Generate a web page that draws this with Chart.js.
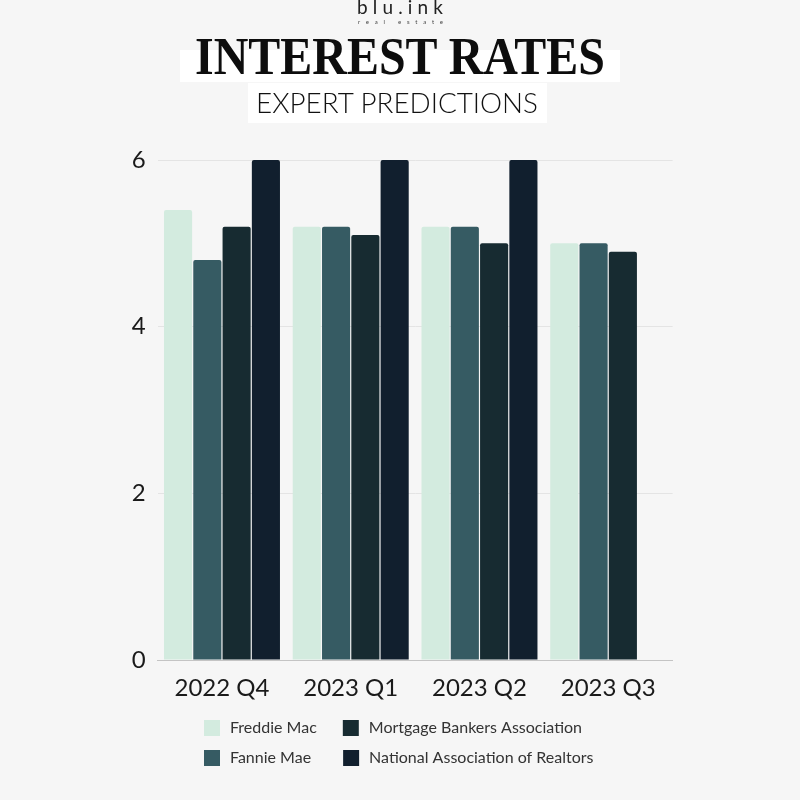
<!DOCTYPE html>
<html><head><meta charset="utf-8">
<script src="https://cdn.jsdelivr.net/npm/chart.js@4.4.0/dist/chart.umd.min.js"></script>
<style>
html,body{margin:0;padding:0;background:#f6f6f6;}
#wrap{position:relative;width:800px;height:800px;overflow:hidden;background:#f6f6f6;}
#c{position:absolute;left:0;top:0;}
.t{position:absolute;white-space:nowrap;transform-origin:0 0;line-height:1;color:#111;}
.box{position:absolute;background:#ffffff;}
</style></head><body>
<div id="wrap">
<canvas id="c" width="800" height="800"></canvas>
<div class="box" style="left:180px;top:50px;width:440px;height:32px"></div>
<div class="box" style="left:248px;top:83px;width:299px;height:40px"></div>
<div class="t" id="brand" style="font-family:Lato;font-weight:400;font-size:19px;left:357px;top:-3px;color:#222">blu.ink</div>
<div class="t" id="sub" style="font-family:Lato;font-weight:400;font-size:6px;left:358px;top:19px;color:#444">real estate</div>
<div class="t" id="title" style="font-family:'Liberation Serif';font-weight:700;font-size:52px;left:195px;top:31px;color:#0d0d0d">INTEREST RATES</div>
<div class="t" id="subtitle" style="font-family:Lato;font-weight:300;font-size:27px;left:256px;top:89.4px;color:#111">EXPERT PREDICTIONS</div>
</div>
<script>
// ---- data ----
const categories = ['2022 Q4', '2023 Q1', '2023 Q2', '2023 Q3'];
const seriesNames = ['Freddie Mac', 'Fannie Mae', 'Mortgage Bankers Association', 'National Association of Realtors'];
const freddieMac = [5.4, 5.2, 5.2, 5.0];
const fannieMae = [4.8, 5.2, 5.2, 5.0];
const mortgageBankers = [5.2, 5.1, 5.0, 4.9];
const realtors = [6, 6, 6, null];
const yTickValues = [0, 2, 4, 6];

const colors = ['#d3ebdf', '#365b63', '#172b31', '#111f2e'];

// ---- header text fitting ----
function scaleTo(id, w) {
  const el = document.getElementById(id);
  const nat = el.getBoundingClientRect().width;
  el.style.transform = 'scaleX(' + (w / nat) + ')';
}
function spaceTo(id, w) {
  const el = document.getElementById(id);
  const n = el.textContent.length;
  const nat = el.getBoundingClientRect().width;
  el.style.letterSpacing = ((w - nat) / (n - 1)) + 'px';
}
scaleTo('title', 410);
scaleTo('subtitle', 282);
spaceTo('brand', 86);
spaceTo('sub', 85);

// ---- legend wrapping helper ----
const LEGEND_LEFT = 190, LEGEND_W = 440;
const legendWrap = {
  id: 'legendWrap',
  beforeLayout(chart) {
    const lg = chart.legend;
    if (lg && !lg._patched) {
      const fit = lg.fit.bind(lg);
      lg.fit = function () {
        const mw = this.maxWidth;
        this.maxWidth = LEGEND_W;
        fit();
        this.maxWidth = mw;
      };
      lg._patched = true;
    }
  },
  afterLayout(chart) {
    const lg = chart.legend;
    lg.left = LEGEND_LEFT;
    lg.right = LEGEND_LEFT + LEGEND_W;
    lg.width = LEGEND_W;
  }
};

const legendOrder = [0, 2, 1, 3];
// small text spacing so the two legend columns line up like the original
const legendPad = [['\u2009', '\u2002\u2009\u2009'], ['\u2009', '\u2002\u2002\u2009'], ['\u2009', ''], ['\u2009', '']];
const allSeries = [freddieMac, fannieMae, mortgageBankers, realtors];

new Chart(document.getElementById('c'), {
  type: 'bar',
  data: {
    labels: categories,
    datasets: allSeries.map((d, i) => ({
      label: seriesNames[i],
      data: d,
      backgroundColor: colors[i],
      borderRadius: 2,
      borderSkipped: 'bottom',
      categoryPercentage: 0.91,
      barPercentage: 0.96
    }))
  },
  options: {
    responsive: false,
    animation: false,
    layout: { padding: { left: 97.6, right: 127.4, top: 160, bottom: 24 } },
    plugins: {
      tooltip: { enabled: false },
      legend: {
        position: 'bottom',
        align: 'start',
        labels: {
          font: { family: 'Lato', size: 16 },
          color: '#333',
          boxWidth: 16,
          boxHeight: 16,
          padding: 14,
          generateLabels: chart => {
            const items = Chart.defaults.plugins.legend.labels.generateLabels(chart);
            items.forEach(it => {
              const p = legendPad[it.datasetIndex];
              it.text = p[0] + it.text + p[1];
            });
            return items;
          },
          sort: (a, b) => legendOrder.indexOf(a.datasetIndex) - legendOrder.indexOf(b.datasetIndex)
        }
      }
    },
    scales: {
      x: {
        grid: { display: false, drawTicks: false },
        border: { display: true, color: '#c4c4c4', width: 1 },
        ticks: { font: { family: 'Lato', size: 24 }, color: '#1a1a1a', padding: 14 },
        afterFit: s => { s.height = 46; }
      },
      y: {
        min: 0, max: 6,
        afterBuildTicks: s => { s.ticks = yTickValues.map(v => ({ value: v })); },
        grid: { color: '#e4e4e4', drawTicks: false },
        border: { display: false },
        ticks: { font: { family: 'Lato', size: 24 }, color: '#1a1a1a', padding: 12 },
        afterFit: s => { s.width = 60; }
      }
    }
  },
  plugins: [legendWrap]
});
</script>
</body></html>
